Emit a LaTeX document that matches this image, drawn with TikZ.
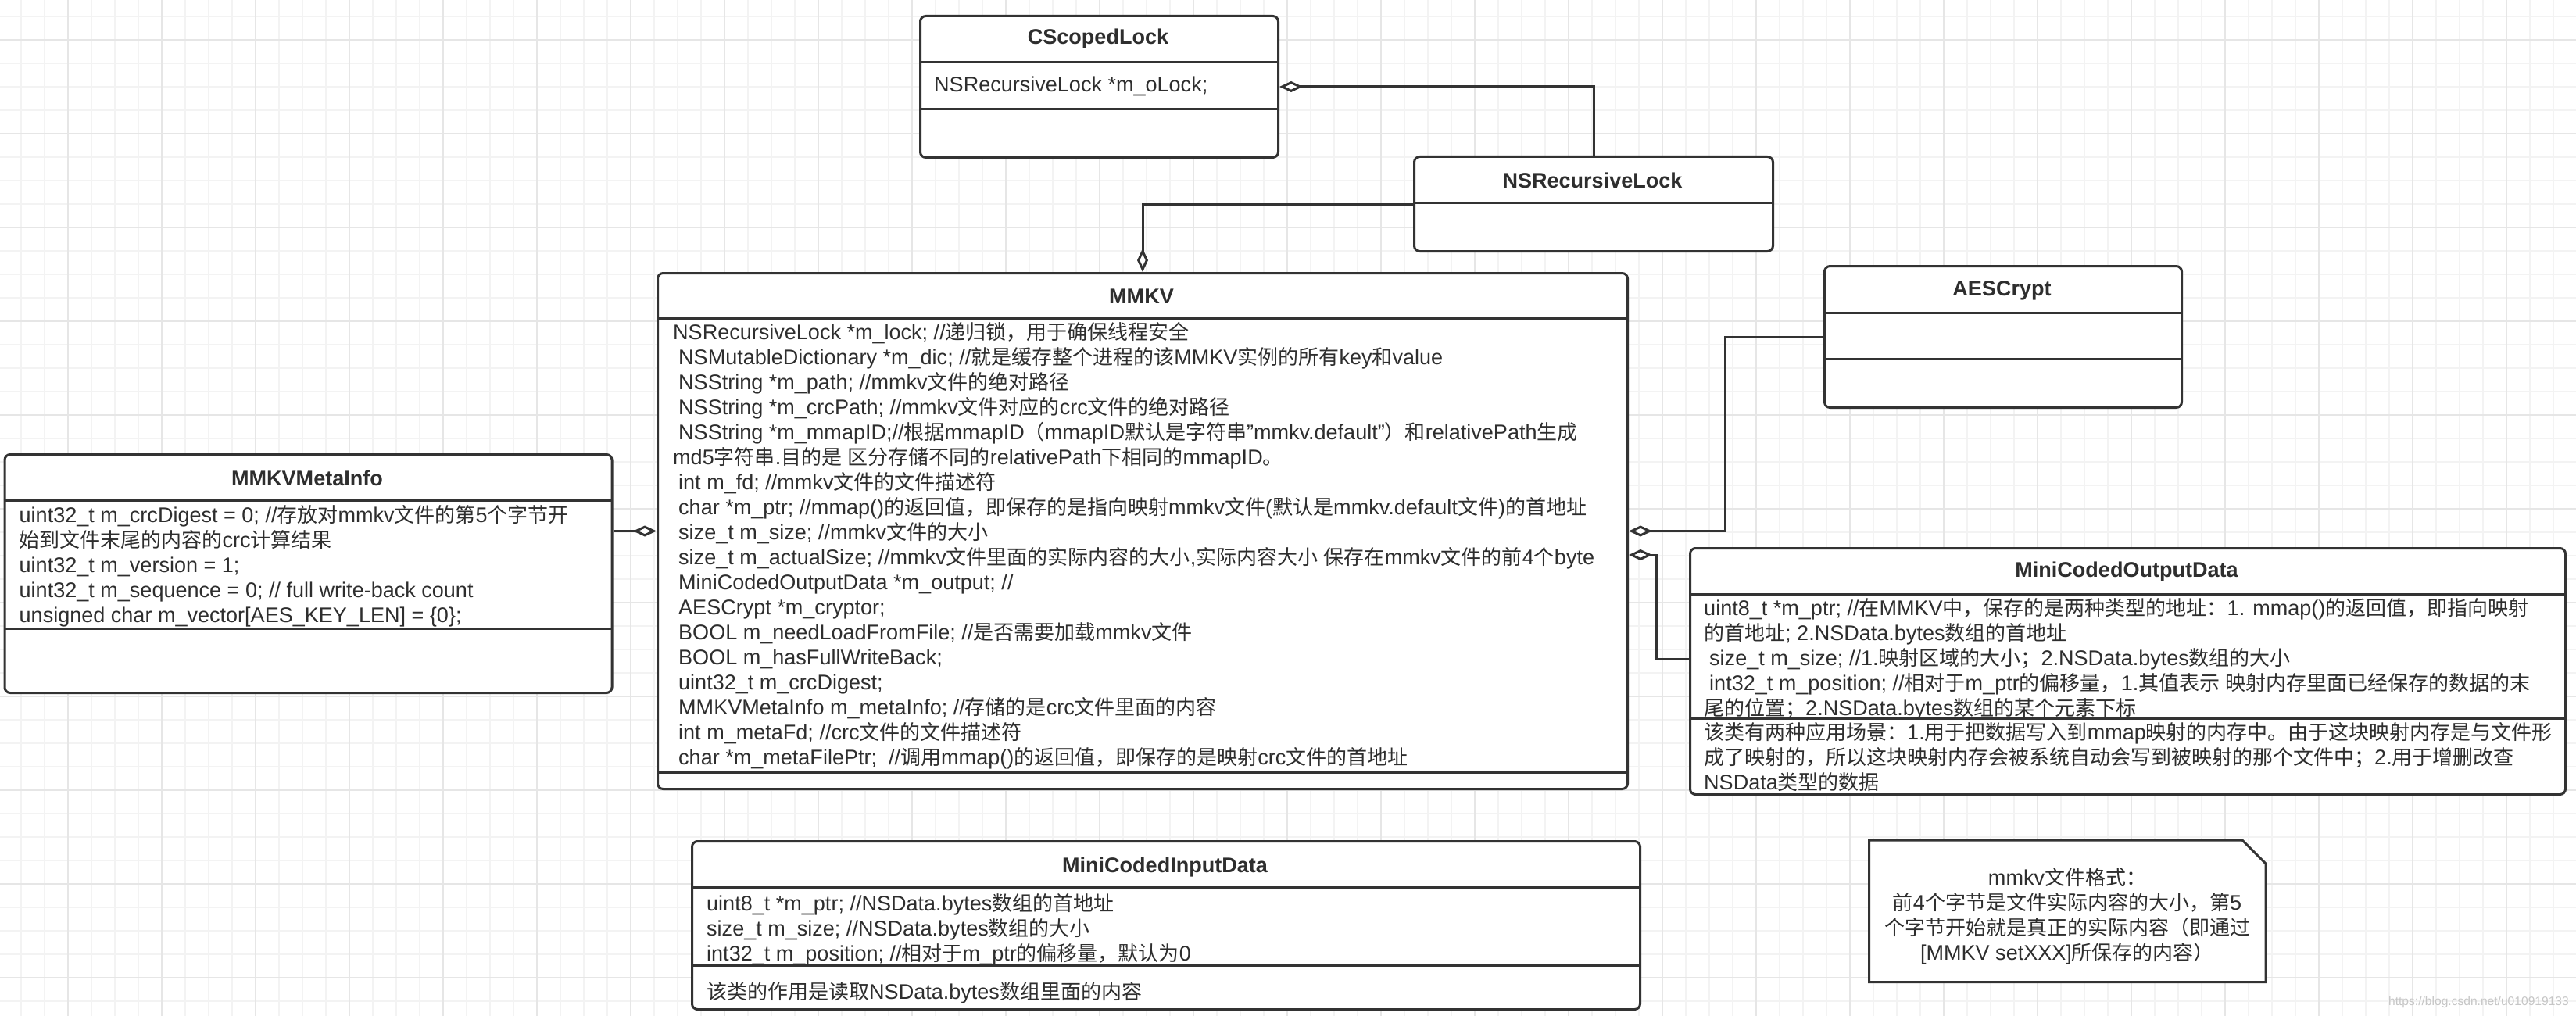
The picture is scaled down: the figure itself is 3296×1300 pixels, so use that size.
\documentclass[tikz,border=0pt]{standalone}
\usepackage{fontspec}
\setmainfont{Liberation Sans}[Scale=1.04]
\newfontfamily\cjkfont{Noto Sans CJK SC}
\usetikzlibrary{arrows.meta}

% switch to the CJK font for Chinese characters and punctuation
\XeTeXinterchartokenstate=1
\newXeTeXintercharclass\cjkclass
\newcount\cjkidx
\cjkidx="3000
\loop\ifnum\cjkidx<"3040 \XeTeXcharclass\cjkidx=\cjkclass \advance\cjkidx by 1 \repeat
\cjkidx="4E00
\loop\ifnum\cjkidx<"A000 \XeTeXcharclass\cjkidx=\cjkclass \advance\cjkidx by 1 \repeat
\cjkidx="FF00
\loop\ifnum\cjkidx<"FFF0 \XeTeXcharclass\cjkidx=\cjkclass \advance\cjkidx by 1 \repeat
\XeTeXinterchartoks 0 \cjkclass = {\begingroup\cjkfont}
\XeTeXinterchartoks 4095 \cjkclass = {\begingroup\cjkfont}
\XeTeXinterchartoks \cjkclass 0 = {\endgroup}
\XeTeXinterchartoks \cjkclass 4095 = {\endgroup}

\definecolor{boxgray}{HTML}{333333}
\definecolor{textgray}{HTML}{2E2E2E}
\definecolor{gridlight}{HTML}{F3F3F3}
\definecolor{griddark}{HTML}{E6E6E6}
\newcommand{\attrpad}{\hspace*{7pt}}

\begin{document}
\begin{tikzpicture}[x=1pt,y=-1pt,
    classbox/.style={draw=boxgray, line width=3pt, rounded corners=7pt, fill=white,
      inner sep=0pt, anchor=north west},
    sepline/.style={draw=boxgray, line width=3pt},
    titletext/.style={font=\fontsize{26}{32}\selectfont\bfseries, text=textgray, inner sep=0pt},
    attrtext/.style={font=\fontsize{26}{32}\selectfont, text=textgray, align=left,
      anchor=north west, inner sep=0pt},
    aggr/.style={draw=boxgray, line width=3pt, -{Diamond[length=30pt, width=14pt, fill=white]}},
    gridminor/.style={draw=gridlight, line width=2pt},
    gridmajor/.style={draw=griddark, line width=2pt}]

    % page and grid
    \useasboundingbox (0,0) rectangle (3296,1300);
    \fill[white] (0,0) rectangle (3296,1300);
    \foreach \gx in {26.7,56.7,...,3296} \draw[gridminor] (\gx,0) -- (\gx,1300);
    \foreach \gy in {20.7,50.7,...,1300} \draw[gridminor] (0,\gy) -- (3296,\gy);
    \foreach \gx in {86.7,206.7,...,3296} \draw[gridmajor] (\gx,0) -- (\gx,1300);
    \foreach \gy in {50.7,170.7,...,1300} \draw[gridmajor] (0,\gy) -- (3296,\gy);

    % class boxes
    \node[classbox, minimum width=458pt, minimum height=181pt] (scoped) at (1176,19) {};
    \node[classbox, minimum width=459pt, minimum height=121pt] (nslock) at (1808,199) {};
    \node[classbox, minimum width=1241pt, minimum height=660pt] (mmkv) at (840,348) {};
    \node[classbox, minimum width=777pt, minimum height=305pt] (meta) at (4.5,580) {};
    \node[classbox, minimum width=457pt, minimum height=181pt] (aes) at (2333,339) {};
    \node[classbox, minimum width=1120pt, minimum height=315pt] (outbox) at (2161,700) {};
    \node[classbox, minimum width=1213pt, minimum height=215pt] (inbox) at (884,1075) {};

    \draw[sepline] (1176,80) -- (1634,80);
    \draw[sepline] (1176,140) -- (1634,140);
    \draw[sepline] (1808,259) -- (2267,259);
    \draw[sepline] (840,407.5) -- (2081,407.5);
    \draw[sepline] (840,988) -- (2081,988);
    \draw[sepline] (4.5,640) -- (781.5,640);
    \draw[sepline] (4.5,804) -- (781.5,804);
    \draw[sepline] (2333,400) -- (2790,400);
    \draw[sepline] (2333,459.5) -- (2790,459.5);
    \draw[sepline] (2161,760) -- (3281,760);
    \draw[sepline] (2161,919) -- (3281,919);
    \draw[sepline] (884,1135) -- (2097,1135);
    \draw[sepline] (884,1235) -- (2097,1235);

    % note
    \draw[draw=boxgray, line width=3pt, fill=white] (2391.5,1075) -- (2869,1075) -- (2899,1105)
      -- (2899,1256.5) -- (2391.5,1256.5) -- cycle;

    % titles
    \node[titletext] (scopedtitle) at (1405,50) {CScopedLock};
    \node[titletext] (nslocktitle) at (2037.5,231) {NSRecursiveLock};
    \node[titletext] (mmkvtitle) at (1460.5,379) {MMKV};
    \node[titletext] (metatitle) at (393,611.5) {MMKVMetaInfo};
    \node[titletext] (aestitle) at (2561.5,371.5) {AESCrypt};
    \node[titletext] (outtitle) at (2721,731.5) {MiniCodedOutputData};
    \node[titletext] (intitle) at (1490.5,1109) {MiniCodedInputData};

    % attributes and notes
    \node[attrtext, anchor=west] (scopedattr) at (1195,110) {NSRecursiveLock *m\_oLock;};

    \node[attrtext] (mmkvattr) at (861,412.5) {NSRecursiveLock *m\_lock; //递归锁，用于确保线程安全\\
      \attrpad NSMutableDictionary *m\_dic; //就是缓存整个进程的该MMKV实例的所有key和value\\
      \attrpad NSString *m\_path; //mmkv文件的绝对路径\\
      \attrpad NSString *m\_crcPath; //mmkv文件对应的crc文件的绝对路径\\
      \attrpad NSString *m\_mmapID;//根据mmapID（mmapID默认是字符串"mmkv.default"）和relativePath生成\\
      md5字符串.目的是 区分存储不同的relativePath下相同的mmapID。\\
      \attrpad int m\_fd; //mmkv文件的文件描述符\\
      \attrpad char *m\_ptr; //mmap()的返回值，即保存的是指向映射mmkv文件(默认是mmkv.default文件)的首地址\\
      \attrpad size\_t m\_size; //mmkv文件的大小\\
      \attrpad size\_t m\_actualSize; //mmkv文件里面的实际内容的大小,实际内容大小 保存在mmkv文件的前4个byte\\
      \attrpad MiniCodedOutputData *m\_output; //\\
      \attrpad AESCrypt *m\_cryptor;\\
      \attrpad BOOL m\_needLoadFromFile; //是否需要加载mmkv文件\\
      \attrpad BOOL m\_hasFullWriteBack;\\
      \attrpad uint32\_t m\_crcDigest;\\
      \attrpad MMKVMetaInfo m\_metaInfo; //存储的是crc文件里面的内容\\
      \attrpad int m\_metaFd; //crc文件的文件描述符\\
      \attrpad char *m\_metaFilePtr;\ \ //调用mmap()的返回值，即保存的是映射crc文件的首地址};

    \node[attrtext] (metaattr) at (24.5,645.8) {uint32\_t m\_crcDigest = 0; //存放对mmkv文件的第5个字节开\\
      始到文件末尾的内容的crc计算结果\\
      uint32\_t m\_version = 1;\\
      uint32\_t m\_sequence = 0; // full write-back count\\
      unsigned char m\_vector[AES\_KEY\_LEN] = \{0\};};

    \node[attrtext] (outattr) at (2180,765.8) {uint8\_t *m\_ptr; //在MMKV中，保存的是两种类型的地址：1. mmap()的返回值，即指向映射\\
      的首地址; 2.NSData.bytes数组的首地址\\
      \attrpad size\_t m\_size; //1.映射区域的大小；2.NSData.bytes数组的大小\\
      \attrpad int32\_t m\_position; //相对于m\_ptr的偏移量，1.其值表示 映射内存里面已经保存的数据的末\\
      尾的位置；2.NSData.bytes数组的某个元素下标};
    \node[attrtext] (outop) at (2180,924.2) {该类有两种应用场景：1.用于把数据写入到mmap映射的内存中。由于这块映射内存是与文件形\\
      成了映射的，所以这块映射内存会被系统自动会写到被映射的那个文件中；2.用于增删改查\\
      NSData类型的数据};

    \node[attrtext] (inattr) at (904,1143.5) {uint8\_t *m\_ptr; //NSData.bytes数组的首地址\\
      size\_t m\_size; //NSData.bytes数组的大小\\
      int32\_t m\_position; //相对于m\_ptr的偏移量，默认为0};
    \node[attrtext, anchor=west] (inop) at (904,1270) {该类的作用是读取NSData.bytes数组里面的内容};

    \node[attrtext, align=center, anchor=north] (notetext) at (2645,1110) {mmkv文件格式：\\
      前4个字节是文件实际内容的大小，第5\\
      个字节开始就是真正的实际内容（即通过\\
      \relax[MMKV setXXX]所保存的内容）};

    \node[font=\fontsize{15}{18}\selectfont, text=gray!45, anchor=east, inner sep=0pt] (mark)
      at (3287,1282) {https://blog.csdn.net/u010919133};

    % aggregations
    \draw[aggr] (nslock.north) |- (scoped.east);
    \draw[aggr] (nslock.west) -| (mmkv.north);
    \draw[aggr] (meta.east |- mmkv.west) -- (mmkv.west);
    \draw[aggr] (aes.west) -- ++(-126,0) |- (mmkv.east);
    \draw[aggr] (outbox.west |- 0,843) -- ++(-42,0) |- (mmkv.east |- 0,710);
\end{tikzpicture}
\end{document}
